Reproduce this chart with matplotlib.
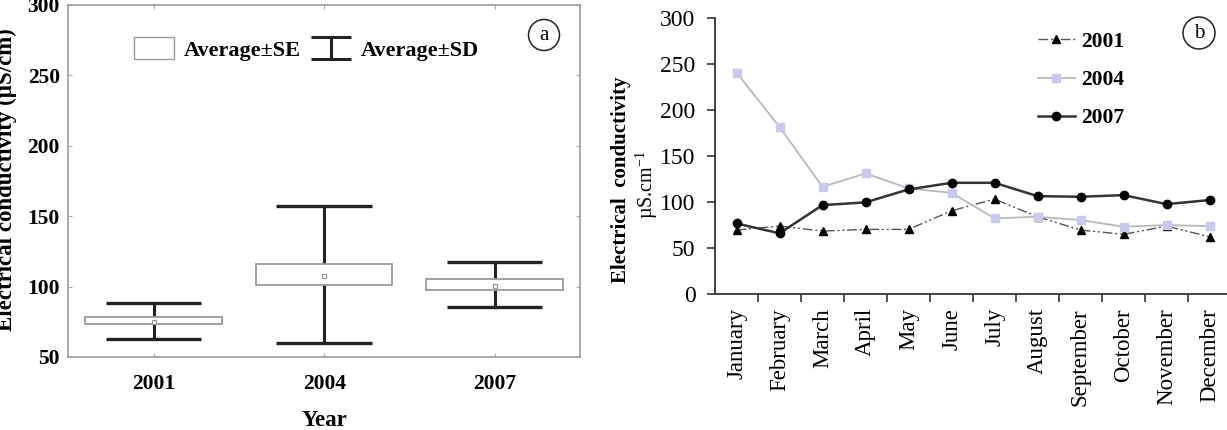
import numpy as np
import matplotlib
matplotlib.use("Agg")
import matplotlib.pyplot as plt
from matplotlib.patches import Patch, Ellipse
from matplotlib.lines import Line2D
from matplotlib.legend_handler import HandlerBase

plt.rcParams['font.family'] = ['Liberation Serif', 'DejaVu Serif']
plt.rcParams['mathtext.fontset'] = 'custom'
plt.rcParams['mathtext.rm'] = 'Liberation Serif'
plt.rcParams['mathtext.bf'] = 'Liberation Serif:bold'

# panel a: yearly summary
years = ['2001', '2004', '2007']
ec_mean = [75.1, 107.6, 100.7]
se_low = [73.2, 101.2, 97.7]
se_high = [78.7, 115.8, 105.2]
sd_low = [63.1, 60.2, 85.8]
sd_high = [88.6, 157.3, 117.8]

# panel b: monthly values
months = ['January', 'February', 'March', 'April', 'May', 'June', 'July',
          'August', 'September', 'October', 'November', 'December']
ec_2001 = [69.6, 73.9, 68.5, 70.3, 70.3, 90.5, 103.3, 84.0, 69.6, 64.9, 73.9, 62.3]
ec_2004 = [241.0, 181.8, 116.6, 131.2, 114.9, 110.1, 82.3, 84.1, 80.4, 73.2, 75.0, 73.9]
ec_2007 = [76.8, 66.0, 96.7, 99.7, 113.8, 121.0, 121.0, 106.5, 105.8, 107.6, 97.8, 102.2]

W, H = 1227, 430
fig = plt.figure(figsize=(W / 100, H / 100), dpi=100)


def px(x0, y0, x1, y1):
    # pixel box (top-left origin) -> figure fraction rect
    return [x0 / W, 1 - y1 / H, (x1 - x0) / W, (y1 - y0) / H]


class SDKey:
    pass


class IHandler(HandlerBase):
    # draws the I-shaped key for the SD whiskers
    def create_artists(self, legend, orig_handle, xdescent, ydescent,
                       width, height, fontsize, trans):
        x0, x1 = -xdescent, -xdescent + width
        y0, y1 = -ydescent, -ydescent + height
        xm = (x0 + x1) / 2
        kw = dict(color='#222222', lw=2.2, transform=trans, solid_capstyle='butt')
        return [Line2D([x0, x1], [y1, y1], **kw),
                Line2D([x0, x1], [y0, y0], **kw),
                Line2D([xm, xm], [y0, y1], **kw)]


# ---------------- panel a ----------------
ax1 = fig.add_axes(px(68.3, 5, 580, 357))
x = np.arange(len(years))
cap = 0.28
ax1.vlines(x, sd_low, sd_high, color='#222222', lw=2.2, zorder=2)
ax1.hlines(sd_high, x - cap, x + cap, color='#222222', lw=2.4, zorder=2)
ax1.hlines(sd_low, x - cap, x + cap, color='#222222', lw=2.4, zorder=2)
ax1.bar(x, np.array(se_high) - np.array(se_low), bottom=se_low, width=0.8,
        facecolor='white', edgecolor='#999999', lw=1.3, zorder=3)
ax1.plot(x, ec_mean, ls='none', marker='s', ms=3.5, mfc='white', mec='#999999',
         mew=0.9, zorder=4)
ax1.set_xlim(-0.5, 2.5)
ax1.set_ylim(50, 300)
ax1.set_xticks(x)
ax1.set_xticklabels(years)
ax1.set_yticks([50, 100, 150, 200, 250, 300])
for s in ax1.spines.values():
    s.set_color('#999999')
    s.set_linewidth(1.2)
ax1.tick_params(direction='in', top=True, right=True, length=3, color='#aaaaaa',
                labelsize=15.5)
ax1.tick_params(axis='x', pad=12)
ax1.tick_params(axis='y', pad=6)
for lab in ax1.get_xticklabels() + ax1.get_yticklabels():
    lab.set_fontweight('bold')

h_se = Patch(facecolor='white', edgecolor='#999999', lw=1.0)
h_sd = SDKey()
ax1.legend([h_se, h_sd], ['Average\u00b1SE', 'Average\u00b1SD'],
           handler_map={SDKey: IHandler()},
           ncol=2, loc='center', bbox_to_anchor=(0.466, 0.875), frameon=False,
           prop={'weight': 'bold', 'size': 16}, handlelength=1.8,
           handleheight=1.1, handletextpad=0.45, columnspacing=0.45,
           borderpad=0)

fig.text(6 / W, 1 - 180 / H, 'Electrical conductivity (\u00b5S/cm)', rotation=90,
         ha='center', va='center', fontsize=16.5, fontweight='bold')
fig.text(325 / W, 1 - 421 / H, 'Year', ha='center', va='center', fontsize=16.5,
         fontweight='bold')

# ---------------- panel b ----------------
ax2 = fig.add_axes(px(715, 18.3, 1231, 294))
m = np.arange(len(months))
ax2.plot(m, ec_2001, color='#555555', lw=1.0, ls=(0, (7, 2, 1.5, 2, 1.5, 2)),
         marker='^', ms=5.5, mfc='black', mec='black', label='2001')
ax2.plot(m, ec_2004, color='#b8b8b8', lw=1.3, marker='s', ms=6,
         mfc='#c8c8f0', mec='#c8c8f0', label='2004')
ax2.plot(m, ec_2007, color='#333333', lw=1.8, marker='o', ms=6,
         mfc='black', mec='black', label='2007')
ax2.set_xlim(-0.5, 11.5)
ax2.set_ylim(0, 300)
ax2.set_yticks([0, 50, 100, 150, 200, 250, 300])
ax2.set_xticks(m)
ax2.set_xticklabels(months, rotation=90)
ax2.set_xticks(np.arange(0.5, 11, 1), minor=True)
ax2.tick_params(axis='x', which='major', length=0, pad=10, labelsize=16.5)
ax2.tick_params(axis='x', which='minor', length=6, width=1.2, color='#333333')
ax2.tick_params(axis='y', length=6, width=1.2, color='#333333', pad=8, labelsize=17)
for side in ['top', 'right']:
    ax2.spines[side].set_visible(False)
for side in ['left', 'bottom']:
    ax2.spines[side].set_color('#333333')
    ax2.spines[side].set_linewidth(1.3)

ax2.legend(loc='center left', bbox_to_anchor=(0.626, 0.776), frameon=False,
           prop={'weight': 'bold', 'size': 15.5}, handlelength=1.7,
           handletextpad=0.3, labelspacing=0.85, borderpad=0, borderaxespad=0)

fig.text(621 / W, 1 - 180 / H, 'Electrical  conductivity', rotation=90,
         ha='center', va='center', fontsize=15, fontweight='bold')
fig.text(647 / W, 1 - 185 / H, '\u00b5S.cm$^{-1}$', rotation=90,
         ha='center', va='center', fontsize=14.5)

# circled panel letters
for cx, cy, r, letter in [(544, 35, 15.5, 'a'), (1199, 33, 16, 'b')]:
    fig.patches.append(Ellipse((cx / W, 1 - cy / H), 2 * r / W, 2 * r / H,
                               transform=fig.transFigure, fill=False,
                               ec='#222222', lw=1.1))
    fig.text(cx / W, 1 - (cy + 1) / H, letter, ha='center', va='center',
             fontsize=15)

fig.savefig('out.png', dpi=100)
